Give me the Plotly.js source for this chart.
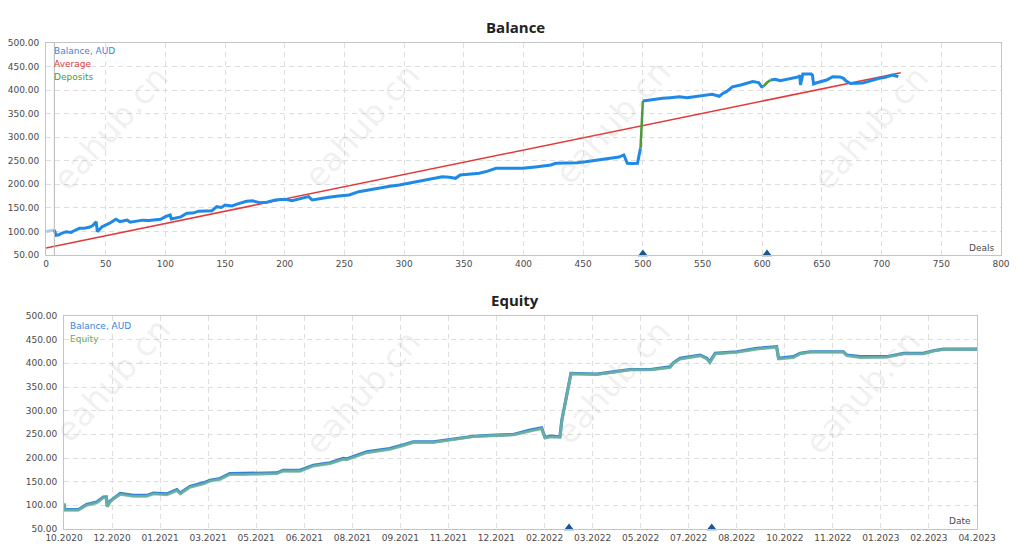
<!DOCTYPE html>
<html>
<head>
<meta charset="utf-8">
<script src="https://cdn.plot.ly/plotly-3.0.1.min.js"></script>
<style>
  html, body { margin: 0; padding: 0; background: #fff; }
  #chart { width: 1024px; height: 551px; }
</style>
</head>
<body>
<div id="chart"></div>
<script>
// ---- Balance chart (by deal number) ----
const startDeals = [0, 2, 4, 6, 7];
const startBalance = [100, 101, 102, 104, 103];

const balanceDeals = [7, 8.5, 11, 13, 17, 21, 24, 28, 32, 36, 39, 42, 43, 47, 53, 58.5, 62, 68, 70.5, 75,
  81, 86, 92, 96, 100, 104, 105, 109, 113, 118, 123, 128, 134, 139, 143, 147, 150, 156, 160, 164,
  168, 173, 179, 185, 192, 197, 201, 206, 209, 215, 220, 223, 230, 237, 245, 254, 262, 270, 279, 288,
  296, 305, 312, 318, 325, 332, 338, 343, 347, 355, 363, 370, 377, 388, 399, 410, 419, 423, 427, 435,
  445, 452, 463, 472, 480, 484, 487, 491, 495.5, 498, null,
  500, 508, 516.5, 523, 530.5, 537, 543, 550, 558, 564, 567, 570, 575, 582, 587, 592, 597, 599.5, 601, null,
  607, 611, 615, 620, 626, 631, 631.5, 632, 634, 641, 642, 643, 645, 650, 654, 659, 665, 668, 670, 674,
  680, 684, 690, 698, 703, 709, 712, 714];
const balanceValues = [103, 92, 93, 96, 99.5, 98, 102, 106.6, 107, 108.8, 112, 120.7, 99.5, 110, 117, 125.8, 121, 124.3, 119.5, 122,
  124, 123, 124, 126, 131.5, 135, 126.5, 128, 131, 138.5, 139, 143, 143, 144, 152.6, 151, 156, 154, 158, 161,
  164, 165, 161, 162, 166.7, 168, 168, 165, 166.7, 170, 174, 166.7, 170, 172.5, 175, 177.4, 184.4, 188, 193, 196,
  198.6, 203, 206, 209, 212, 216, 215, 212.8, 220, 221, 223.4, 228, 234, 234, 234, 237, 239, 241, 244.6, 245,
  246, 248, 251.6, 256, 258, 262.3, 244.6, 244, 244.6, 276.4, null,
  377, 380, 382.6, 384, 386, 384, 386, 388, 391, 387, 393, 396.7, 407, 411, 414, 418, 416, 407, 408, null,
  421.5, 423, 420, 423, 425, 428.5, 432, 411, 434, 434, 432, 413, 415, 419, 421.5, 428.5, 428, 425, 420, 414,
  415, 415, 419, 425, 427, 432, 430, 428.5];

const depositDeals = [498, 500, null, 601, 604, 607];
const depositValues = [276.4, 377, null, 408, 416, 421.5];

const averageDeals = [0, 716];
const averageValues = [65, 437];

const depositMarkDeals = [500, 604];
const firstDealLine = 7;

const dealTicks = [0, 50, 100, 150, 200, 250, 300, 350, 400, 450, 500, 550, 600, 650, 700, 750, 800];
const valueTicks = [50, 100, 150, 200, 250, 300, 350, 400, 450, 500];

// ---- Equity chart (by date, position in tick units) ----
const dateLabels = ["10.2020", "12.2020", "01.2021", "03.2021", "05.2021", "06.2021", "08.2021", "09.2021",
  "11.2021", "12.2021", "02.2022", "03.2022", "05.2022", "07.2022", "08.2022", "10.2022", "11.2022",
  "01.2023", "02.2023", "04.2023"];

const datePos = [0, 0.02, 0.3, 0.47, 0.68, 0.82, 0.88, 0.9, 0.95, 1.06, 1.17, 1.44, 1.72, 1.86, 2.14, 2.35, 2.42,
  2.62, 2.9, 3.04, 3.25, 3.45, 3.73, 4.15, 4.43, 4.56, 4.91, 5.19, 5.54, 5.81, 5.88, 6.3, 6.58, 6.78, 7.03,
  7.27, 7.69, 8.17, 8.52, 8.87, 9.35, 9.7, 9.94, 10.01, 10.11, 10.32, 10.36, 10.55, 11.09, 11.43, 11.78, 12.2,
  12.61, 12.68, 12.82, 13.24, 13.38, 13.44, 13.55, 14.0, 14.42, 14.83, 14.87, 15.18, 15.32, 15.53, 16.22,
  16.29, 16.57, 17.12, 17.47, 17.88, 18.09, 18.3, 19.0];
const dateBalance = [104, 91, 91, 102, 107, 117.7, 118, 98, 108, 117, 125, 121, 121, 126, 124, 133, 126,
  140, 147.4, 153, 156.6, 167, 167, 168.6, 168.6, 174, 174, 184.8, 190, 199, 198, 213, 216.5, 220, 227,
  234, 234, 241, 246, 248, 249.7, 258.8, 263.7, 243.4, 246, 244.8, 280, 378.8, 377.3, 382, 387, 387,
  392.7, 401, 410.5, 417.5, 410.5, 403, 421, 424.5, 431.6, 435, 410.5, 414, 421, 424.5, 424.5,
  417.5, 414, 414, 421, 421, 426.6, 430, 430];
const dateEquity = [103, 90, 90, 100, 105, 116, 116, 97, 106, 116, 123, 119, 119, 124, 122, 131, 124,
  138, 145, 151, 155, 165, 165, 166, 167, 172, 172, 183, 188, 197, 196, 211, 215, 218, 225,
  233, 233, 240, 245, 247, 249, 257, 262, 242, 244, 244, 279, 378, 376.5, 381, 386, 386,
  391, 400, 409, 416, 409, 401, 420, 423, 430, 434, 409, 412, 420, 423.5, 423.5,
  416, 412, 413, 420, 420, 426, 429.5, 430];

const equityMarkPos = [10.51, 13.48];

// ---- page geometry helpers (pixel -> paper) ----
const W = 1024, H = 551;
const px = (x) => x / W;
const py = (y) => 1 - y / H;

const tickFont = { family: "DejaVu Sans, Verdana, sans-serif", size: 9, color: "#4a4a4a" };
const gridColor = "#dedede";
const frameColor = "#c4c4c4";

function valueAxis(domain, anchor) {
  return {
    domain: domain,
    anchor: anchor,
    range: [50, 500],
    tickvals: valueTicks,
    ticktext: valueTicks.map((v) => v.toFixed(2)),
    tickfont: tickFont,
    showgrid: true,
    gridcolor: gridColor,
    griddash: "5px,4px",
    gridwidth: 1,
    zeroline: false,
    showline: true,
    mirror: true,
    linecolor: frameColor,
    linewidth: 1,
    ticks: "",
    ticklabelstandoff: 4,
    fixedrange: true,
  };
}

function markerY(list) {
  return list.map(() => 52);
}

const traces = [
  {
    x: startDeals, y: startBalance, xaxis: "x", yaxis: "y",
    type: "scatter", mode: "lines", hoverinfo: "skip",
    line: { color: "#b4cbe3", width: 3 },
  },
  {
    x: averageDeals, y: averageValues, xaxis: "x", yaxis: "y",
    type: "scatter", mode: "lines", hoverinfo: "skip",
    line: { color: "#e23a3a", width: 1.5 },
  },
  {
    x: balanceDeals, y: balanceValues, xaxis: "x", yaxis: "y",
    type: "scatter", mode: "lines", hoverinfo: "skip",
    line: { color: "#1f8ae6", width: 3 },
  },
  {
    x: depositDeals, y: depositValues, xaxis: "x", yaxis: "y",
    type: "scatter", mode: "lines", hoverinfo: "skip",
    line: { color: "#4c9a3c", width: 2.5 },
  },
  {
    x: depositMarkDeals, y: markerY(depositMarkDeals), xaxis: "x", yaxis: "y",
    type: "scatter", mode: "markers", hoverinfo: "skip", cliponaxis: false,
    marker: { symbol: "triangle-up", size: 9, color: "#1a568f" },
  },
  {
    x: datePos, y: dateBalance, xaxis: "x2", yaxis: "y2",
    type: "scatter", mode: "lines", hoverinfo: "skip",
    line: { color: "#2f82d6", width: 3.2 },
  },
  {
    x: datePos, y: dateEquity, xaxis: "x2", yaxis: "y2",
    type: "scatter", mode: "lines", hoverinfo: "skip", opacity: 0.85,
    line: { color: "#72b49c", width: 2.8 },
  },
  {
    x: equityMarkPos, y: markerY(equityMarkPos), xaxis: "x2", yaxis: "y2",
    type: "scatter", mode: "markers", hoverinfo: "skip", cliponaxis: false,
    marker: { symbol: "triangle-up", size: 9, color: "#1a568f" },
  },
];

// legend-like coloured labels, titles, axis names
const annotations = [
  { text: "<b>Balance</b>", x: px(515), y: py(27), font: { family: "Open Sans, DejaVu Sans, sans-serif", size: 15, color: "#222" } },
  { text: "<b>Equity</b>", x: px(515), y: py(300), font: { family: "Open Sans, DejaVu Sans, sans-serif", size: 15, color: "#222" } },
  { text: "Balance, AUD", x: px(52), y: py(51), xanchor: "left", font: { ...tickFont, color: "#3a84dc" } },
  { text: "Average", x: px(52), y: py(64), xanchor: "left", font: { ...tickFont, color: "#e03a3a" } },
  { text: "Deposits", x: px(52), y: py(77), xanchor: "left", font: { ...tickFont, color: "#4c9a3c" } },
  { text: "Deals", x: px(996), y: py(248), xanchor: "right", font: tickFont },
  { text: "Balance, AUD", x: px(68), y: py(326), xanchor: "left", font: { ...tickFont, color: "#3a84dc" } },
  { text: "Equity", x: px(68), y: py(339), xanchor: "left", font: { ...tickFont, color: "#6aaa5a" } },
  { text: "Date", x: px(973), y: py(521), xanchor: "right", font: tickFont },
].map((a) => ({ xref: "paper", yref: "paper", showarrow: false, xanchor: "center", yanchor: "middle", ...a }));

// watermark
const marks = [[110, 128], [362, 126], [612, 122], [870, 128], [112, 380], [362, 392], [612, 382], [862, 392]];
marks.forEach(([mx, my]) => {
  annotations.push({
    text: "eahub.cn", xref: "paper", yref: "paper", x: px(mx), y: py(my),
    xanchor: "center", yanchor: "middle",
    showarrow: false, textangle: -48,
    font: { family: "DejaVu Sans, Verdana, sans-serif", size: 33, color: "rgba(160,160,160,0.17)" },
  });
});

const layout = {
  width: W,
  height: H,
  margin: { l: 0, r: 0, t: 0, b: 0 },
  paper_bgcolor: "#ffffff",
  plot_bgcolor: "#ffffff",
  showlegend: false,
  xaxis: {
    domain: [px(46), px(1001)],
    anchor: "y",
    range: [0, 800],
    tickvals: dealTicks,
    tickfont: tickFont,
    showgrid: true,
    gridcolor: gridColor,
    griddash: "5px,4px",
    zeroline: false,
    showline: true,
    mirror: true,
    linecolor: frameColor,
    ticks: "",
    fixedrange: true,
  },
  yaxis: valueAxis([py(255), py(43)], "x"),
  xaxis2: {
    domain: [px(64), px(977)],
    anchor: "y2",
    range: [0, 19],
    tickvals: dateLabels.map((_, i) => i),
    ticktext: dateLabels,
    tickfont: tickFont,
    showgrid: true,
    gridcolor: gridColor,
    griddash: "5px,4px",
    zeroline: false,
    showline: true,
    mirror: true,
    linecolor: frameColor,
    ticks: "",
    fixedrange: true,
  },
  yaxis2: valueAxis([py(529), py(316)], "x2"),
  shapes: [
    {
      type: "line", xref: "x", yref: "y domain",
      x0: firstDealLine, x1: firstDealLine, y0: 0, y1: 1,
      line: { color: "#b8b8b8", width: 1 },
    },
  ],
  annotations: annotations,
};

Plotly.newPlot("chart", traces, layout, { displayModeBar: false, staticPlot: true });
</script>
</body>
</html>
